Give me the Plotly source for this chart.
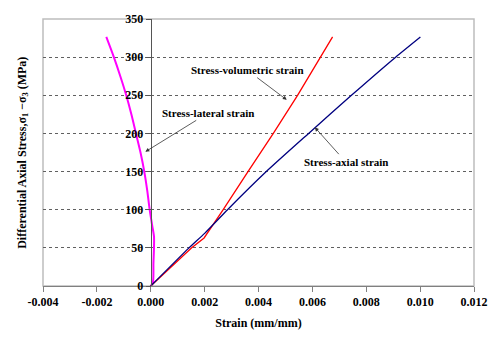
import plotly.graph_objects as go

# Data (stress in MPa, strain in mm/mm)
lat_stress = [0, 5, 30, 50, 65, 80, 100, 125, 150, 175, 200, 225, 250, 275, 300, 326.5]
lat_strain = [0, 0.00008, 0.0001, 0.00012, 0.00012, 0.00005, -0.00004, -0.00013, -0.00024,
              -0.00038, -0.00055, -0.00072, -0.00091, -0.00113, -0.00137, -0.00165]

vol_stress = [0, 50, 63, 100, 150, 200, 250, 300, 326.5]
vol_strain = [0, 0.00152, 0.00198, 0.00269, 0.00361, 0.00455, 0.00545, 0.00632, 0.00675]

ax_stress = [0, 50, 69, 100, 150, 200, 250, 300, 326.5]
ax_strain = [0, 0.00142, 0.00200, 0.00285, 0.00429, 0.00586, 0.00745, 0.00909, 0.01001]

x_ticks = [-0.004, -0.002, 0.0, 0.002, 0.004, 0.006, 0.008, 0.010, 0.012]
x_labels = ["-0.004", "-0.002", "0.000", "0.002", "0.004", "0.006", "0.008", "0.010", "0.012"]
y_ticks = [0, 50, 100, 150, 200, 250, 300, 350]

FONT = "Liberation Serif, Times New Roman, serif"

fig = go.Figure()
fig.add_trace(go.Scatter(x=lat_strain, y=lat_stress, mode="lines",
                         line=dict(color="#ff00ff", width=2, shape="spline", smoothing=0.8),
                         showlegend=False))
fig.add_trace(go.Scatter(x=vol_strain, y=vol_stress, mode="lines",
                         line=dict(color="#ff0000", width=1.3), showlegend=False))
fig.add_trace(go.Scatter(x=ax_strain, y=ax_stress, mode="lines",
                         line=dict(color="#000080", width=1.3, shape="spline", smoothing=0.6),
                         showlegend=False))

tickfont = dict(family=FONT, size=12, color="black", weight="bold")

fig.update_layout(
    width=500, height=340,
    margin=dict(l=43, r=24, t=15, b=54),
    paper_bgcolor="white", plot_bgcolor="white",
    font=dict(family=FONT, color="black"),
    xaxis=dict(range=[-0.004, 0.012], tickvals=x_ticks, ticktext=x_labels,
               showgrid=False, zeroline=False, showline=True, linecolor="#808080", linewidth=1,
               ticks="outside", ticklen=5, tickcolor="#808080", tickfont=tickfont,
               title=dict(text="Strain (mm/mm)", font=dict(family=FONT, size=12, weight="bold"), standoff=10)),
    yaxis=dict(range=[0, 350], tickvals=y_ticks, anchor="free", position=0.25,
               showgrid=True, gridcolor="#606060", griddash="dot", gridwidth=1,
               zeroline=False, showline=True, linecolor="#555555", linewidth=1,
               ticks="outside", ticklen=5, tickcolor="#555555", tickfont=tickfont),
)

# plot-area frame
fig.add_shape(type="rect", xref="paper", yref="paper", x0=0, y0=0, x1=1, y1=1,
              line=dict(color="#bdbdbd", width=1.5), layer="below")

# y-axis title placed at far left
fig.add_annotation(xref="paper", yref="paper", x=-0.048, y=0.5, xanchor="center", yanchor="middle",
                   text="Differential Axial Stress,σ<sub>1</sub> −σ<sub>3</sub> (MPa)", textangle=-90,
                   showarrow=False, font=dict(family=FONT, size=12, weight="bold"))

# (label, text centre x, y, arrow head x, y)
labels = [
    ("Stress-volumetric strain", 0.00358, 283, 0.00505, 244),
    ("Stress-lateral strain", 0.00214, 227, -0.00020, 176),
    ("Stress-axial strain", 0.00723, 163, 0.00609, 208),
]
for txt, tx, ty, hx, hy in labels:
    fig.add_annotation(x=hx, y=hy, ax=tx, ay=ty, axref="x", ayref="y", text=txt,
                       showarrow=True, arrowhead=2, arrowsize=1, arrowwidth=0.8,
                       arrowcolor="#333333", borderpad=1,
                       font=dict(family=FONT, size=11, weight="bold", color="black"))

fig.write_html("out.html")
